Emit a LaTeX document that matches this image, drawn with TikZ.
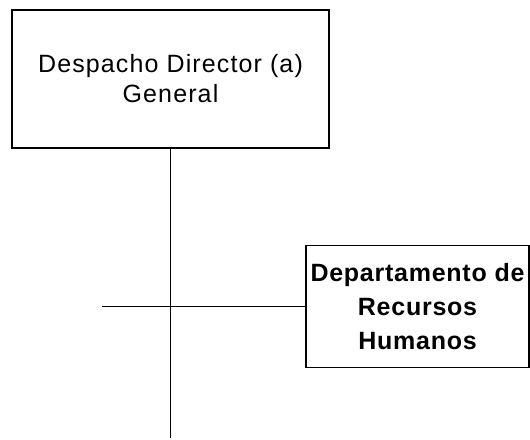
\documentclass[tikz,border=0pt]{standalone}
\usepackage{fontspec}
\setmainfont{Liberation Sans}
\begin{document}
\begin{tikzpicture}[x=1pt,y=-1pt,
  box/.style={draw=black,line width=1.6pt,fill=white,inner sep=0pt,align=center},
  conn/.style={draw=black,line width=1.6pt}]
\useasboundingbox (0,0) rectangle (530,439);
\node[box,minimum width=317pt,minimum height=138pt,
  font=\fontsize{25}{30}\selectfont\addfontfeature{LetterSpace=4.5}]
  (dir) at (170.5,79) {Despacho Director (a)\\General};
\node[box,minimum width=223pt,minimum height=122pt,
  font=\fontsize{25}{34}\selectfont\bfseries\addfontfeature{LetterSpace=3}]
  (rh) at (417.5,306.5) {Departamento de\\Recursos\\Humanos};
\coordinate (bot) at (170.5,438);
\coordinate (lft) at (102,306.5);
\draw[conn] (dir.south) -- (bot);
\draw[conn] (lft) -- (rh.west);
\end{tikzpicture}
\end{document}
